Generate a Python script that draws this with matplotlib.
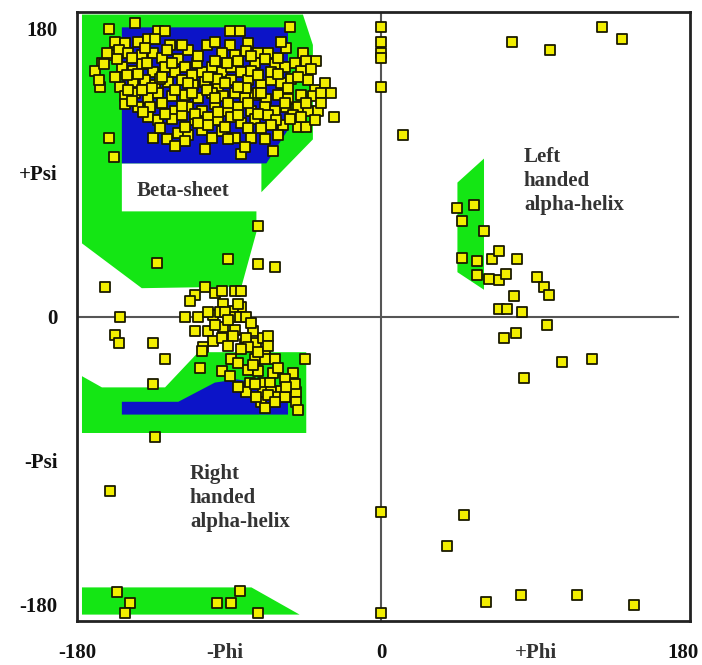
import numpy as np
import matplotlib.pyplot as plt
from matplotlib.patches import Polygon

# allowed regions (phi, psi)
beta_green = [(-180, 189), (-47, 189), (-41, 170), (-41, 111), (-72, 78), (-72, 96),
              (-156, 96), (-156, 66), (-75, 66), (-75, 53), (-84, 19), (-144, 18), (-180, 46)]
beta_blue = [(-156, 181), (-56, 181), (-56, 117), (-69, 96), (-156, 96)]
alpha_green = [(-180, -37), (-168, -44), (-130, -44), (-110, -22), (-45, -22), (-45, -72.5), (-180, -72.5)]
alpha_blue = [(-156, -61), (-156, -53), (-122, -53), (-100, -41), (-87, -39), (-66, -42),
              (-56, -52), (-56, -61)]
bottom_green = [(-180, -169), (-78, -169), (-49, -186), (-180, -186)]
left_green = [(62, 99), (46, 84), (46, 28), (62, 17)]

# residues
phi = [
    # beta-sheet cluster
    -148, -164, -134, -130, -91, -85, -55, -160, -154, -146, -140, -136, -127, -91, -80, -81,
    -168, -163, -158, -152, -144, -137, -132, -122, -116, -96, -88, -74, -68, -47, -39,
    -172, -167, -156, -149, -144, -137, -130, -124, -118, -108, -102, -96, -90, -84, -76, -70,
    -64, -58, -52, -48,
    -169, -157, -149, -142, -136, -128, -120, -113, -106, -98, -90, -80, -72, -66, -60, -54,
    -44, -40, -34,
    -154, -148, -140, -134, -126, -118, -110, -102, -95, -88, -82, -76, -69, -62, -56, -48,
    -41, -36,
    -154, -146, -139, -132, -124, -116, -108, -100, -92, -86, -78, -70, -64, -57, -50, -44,
    -38, -28,
    -140, -134, -126, -120, -112, -104, -98, -90, -84, -76, -68, -59, -50, -45, -40,
    -137, -129, -122, -116, -108, -102, -96, -88, -80, -78, -70, -84, -65, -164, -161,
    -159, -153, -141, -133, -126, -114, -111, -105, -99, -93, -78, -74, -118, -144, -63, -53,
    -129, -105, -66, -81,
    -150, -142, -120, -110, -100, -86, -78, -62, -57, -50,
    -160, -146, -132, -116, -104, -94, -86, -74, -62, -56,
    -152, -138, -124, -114, -100, -92, -80, -72, -58, -45,
    -150, -143, -130, -120, -112, -104, -94, -86, -74, -66,
    -55, -48, -36, -30, -133, -118, -110, -92, -82, -72,
    -62, -106, -124, -98, -165, -170, -45, -42, -60, -100,
    # right handed alpha region
    -74, -135, -92, -74, -64, -166, -106, -112, -100, -96, -88, -84, -95, -84, -89,
    -157, -118, -110, -101, -97, -94, -88, -85, -81, -112, -104, -95, -88, -77,
    -101, -96, -89, -82, -75, -107, -160, -158, -137, -130, -137, -136, -163,
    -108, -109, -96, -91, -90, -86, -80, -71, -68, -81, -70, -76, -70, -64, -46,
    -74, -65, -53, -79, -71, -67, -58, -81, -71, -66, -60, -56, -51, -72, -70, -51, -50,
    -80, -74, -52, -62, -76, -58, -68,
    -100, -92, -86, -78, -84, -77, -62, -57, -64, -75, -86, -68, -92, -104, -115,
    # bottom band
    -159, -151, -154, -99, -90, -85, -74,
    # phi = 0 and upper right
    0, 0, 0, 0, 0, 13, 79, 102, 133, 145, 0, 0,
    # left handed helix and right side
    46, 56, 49, 62, 49, 58, 67, 71, 82, 58, 65, 71, 75, 94, 98, 101, 80,
    71, 76, 85, 100, 74, 81, 109, 127, 86, 50, 40, 63, 84, 118, 152,
]
psi = [
    184, 180, 179, 179, 179, 179, 181, 172, 171, 172, 174, 174, 170, 170, 171, 166,
    159, 164, 167, 165, 164, 165, 162, 161, 167, 165, 164, 165, 165, 165, 160,
    154, 158, 156, 154, 158, 153, 156, 153, 156, 153, 156, 153, 156, 153, 159, 161,
    158, 156, 159, 154,
    144, 144, 147, 148, 145, 147, 148, 145, 147, 144, 148, 148, 145, 148, 146, 149,
    148, 142, 146,
    138, 140, 137, 140, 138, 139, 137, 140, 138, 140, 137, 139, 136, 139, 136, 139,
    138, 140,
    133, 131, 131, 134, 129, 131, 129, 133, 129, 131, 129, 131, 129, 131, 131, 129,
    129, 125,
    125, 123, 124, 126, 123, 125, 123, 125, 121, 124, 126, 120, 119, 119, 123,
    112, 111, 115, 114, 117, 112, 116, 112, 118, 112, 111, 102, 104, 112, 100,
    161, 151, 159, 149, 159, 151, 159, 142, 149, 159, 154, 140, 119, 142, 123, 126,
    167, 170, 153, 143,
    162, 168, 170, 163, 160, 160, 163, 162, 168, 150,
    150, 152, 150, 146, 150, 146, 144, 151, 152, 143,
    142, 143, 142, 140, 137, 134, 134, 140, 134, 134,
    135, 128, 127, 132, 127, 120, 119, 126, 127, 120,
    124, 125, 134, 140, 118, 110, 121, 111, 106, 118,
    114, 105, 107, 128, 165, 148, 160, 155, 172, 172,
    57, 34, 36, 33, 31, 19, 19, 14, 15, 16, 16, 16, 8, 6, 4,
    0, 0, 0, 1, 3, 3, 0, 0, 0, -9, -9, -6, -8, -9,
    -15, -13, -12, -17, -16, -19, -11, -16, -16, -26, -42, -75, -109,
    -21, -32, -34, -37, -26, -29, -33, -13, -12, -13, -22, -26, -26, -26, -26,
    -34, -35, -35, -41, -41, -41, -39, -47, -47, -47, -46, -50, -47, -53, -57, -53, -58,
    -19, -22, -42, -50, -42, -50, -49,
    -5, -2, 8, -4, -20, -30, -32, -44, -53, -50, -44, -18, -18, 3, 10,
    -172, -179, -185, -179, -179, -171, -185,
    181, 172, 165, 162, 144, 114, 172, 167, 181, 174, -122, -185,
    68, 70, 60, 54, 37, 35, 36, 41, 36, 26, 24, 23, 27, 25, 19, 14, 13,
    5, 5, 3, -5, -13, -10, -28, -26, -38, -124, -143, -178, -174, -174, -180,
]

green = '#14e614'
blue = '#0c14c8'
serif = ['Liberation Serif', 'DejaVu Serif']

fig = plt.figure(figsize=(7.02, 6.65), dpi=100)
ax = fig.add_axes([77 / 702, 1 - 621 / 665, 613 / 702, 609 / 665])
ax.set_xlim(-182, 186)
ax.set_ylim(-190, 190.6)

for poly, col in [(beta_green, green), (beta_blue, blue), (alpha_green, green),
                  (alpha_blue, blue), (bottom_green, green), (left_green, green)]:
    ax.add_patch(Polygon(poly, closed=True, facecolor=col, edgecolor='none', zorder=1))

ax.axvline(0, color='#555555', lw=1.5, zorder=2)
ax.plot([-182, 179], [0, 0], color='#555555', lw=1.5, zorder=2)

ax.scatter(phi, psi, marker='s', s=42, facecolor='#f2ee00', edgecolor='#1a1a00',
           linewidth=1.3, zorder=3)

tk = dict(family=serif, fontweight='bold', fontsize=15, color='#333333')
ax.text(-147, 79, 'Beta-sheet', ha='left', va='center', **tk)
ax.text(86, 85, 'Left\nhanded\nalpha-helix', ha='left', va='center', linespacing=1.25, **tk)
ax.text(-115, -113, 'Right\nhanded\nalpha-helix', ha='left', va='center', linespacing=1.25, **tk)

ax.set_yticks([180, 90, 0, -90, -180])
ax.set_yticklabels(['180', '+Psi', '0', '-Psi', '-180'])
ax.set_xticks([-183, 0, 182])
ax.set_xticklabels(['-180', '0', '180'])
ax.tick_params(length=0, pad=14)
ax.tick_params(axis='x', pad=16)
for lab in ax.get_xticklabels() + ax.get_yticklabels():
    lab.set_family(serif)
    lab.set_fontweight('bold')
    lab.set_fontsize(15)
    lab.set_color('#111111')

tr = ax.get_xaxis_transform()
ax.text(-94, -0.053, '-Phi', transform=tr, ha='center', va='center', **tk)
ax.text(93, -0.053, '+Phi', transform=tr, ha='center', va='center', **tk)

for s in ax.spines.values():
    s.set_color('#222222')
    s.set_linewidth(2)

fig.savefig('out.png', dpi=100)
